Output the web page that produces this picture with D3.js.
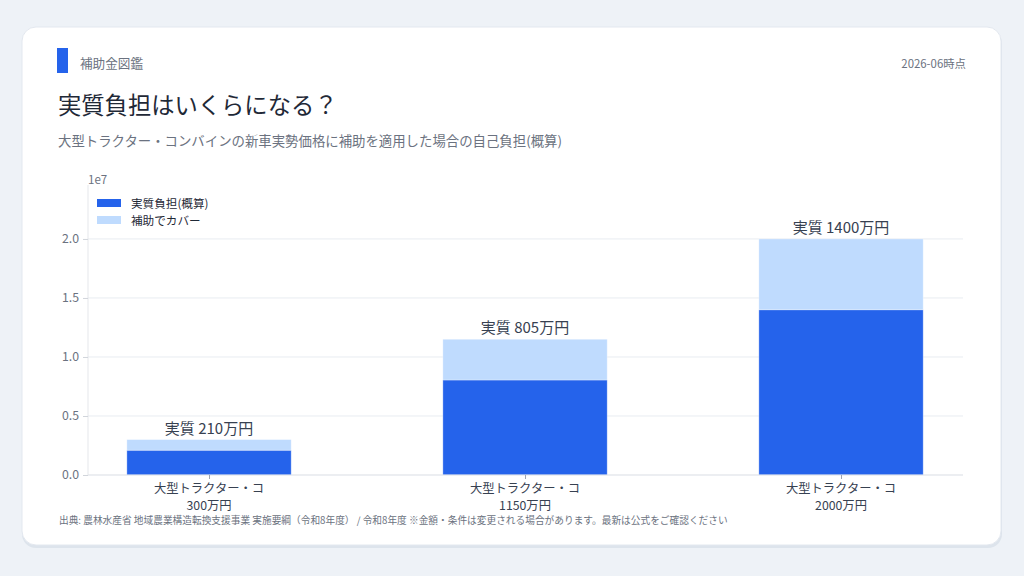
<!DOCTYPE html>
<html><head><meta charset="utf-8">
<script src="https://cdn.jsdelivr.net/npm/d3@7"></script>
<style>
html,body{margin:0;padding:0;background:#eef2f7;}
svg{display:block;font-family:"Noto Sans CJK JP","Noto Sans",sans-serif;}
</style></head><body>
<svg id="c" width="1024" height="576"></svg>
<script>
const categories = ["大型トラクター・コ\n300万円", "大型トラクター・コ\n1150万円", "大型トラクター・コ\n2000万円"];
const burden = [2100000, 8050000, 14000000];
const covered = [900000, 3450000, 6000000];
const barLabels = ["実質 210万円", "実質 805万円", "実質 1400万円"];
const yTicks = [0, 5000000, 10000000, 15000000, 20000000];
const seriesNames = ["実質負担(概算)", "補助でカバー"];

const svg = d3.select("#c");
// card
svg.append("rect").attr("x",22).attr("y",30).attr("width",980).attr("height",518).attr("rx",14).attr("fill","#dde4ec");
svg.append("rect").attr("x",22).attr("y",27).attr("width",979).attr("height",518).attr("rx",14).attr("fill","#ffffff").attr("stroke","#e3e8ef").attr("stroke-width",1);

// header
svg.append("rect").attr("x",57).attr("y",48).attr("width",11).attr("height",25).attr("fill","#2563eb");
svg.append("text").attr("x",80).attr("y",68).attr("font-size",12.6).attr("fill","#6b7280").text("補助金図鑑");
svg.append("text").attr("x",966).attr("y",68).attr("text-anchor","end").attr("font-size",11.4).attr("fill","#6b7280").text("2026-06時点");
svg.append("text").attr("x",58).attr("y",114).attr("font-size",23.3).attr("fill","#1f2937").text("実質負担はいくらになる？");
svg.append("text").attr("x",58).attr("y",146).attr("font-size",13.4).attr("fill","#6b7280").text("大型トラクター・コンバインの新車実勢価格に補助を適用した場合の自己負担(概算)");

const L=88, R=963, T=185, B=475;
const idx = d3.range(categories.length);
const x = d3.scaleLinear().domain([-0.383, 2.386]).range([L, R]);
const y = d3.scaleLinear().domain([0, 24570000]).range([B, T]);
const bw = 0.52;

const g = svg.append("g");
// grid
g.selectAll(".grid").data(yTicks).enter().append("line")
 .attr("x1",L).attr("x2",R).attr("y1",d=>y(d)).attr("y2",d=>y(d))
 .attr("stroke","#e8ecf1").attr("stroke-width",1);

// y axis
const yAxis = d3.axisLeft(y).tickValues(yTicks).tickFormat(d=>(d/1e7).toFixed(1)).tickSize(5).tickPadding(4);
const ya = g.append("g").attr("transform",`translate(${L},0)`).call(yAxis);
ya.select(".domain").attr("stroke","#e5e7eb").attr("d",`M0,${T}V${B}`);
ya.selectAll(".tick line").attr("stroke","#d1d5db");
ya.selectAll(".tick text").attr("fill","#6b7280").attr("font-size",12.3).attr("font-family","'Noto Sans CJK JP','Noto Sans',sans-serif");
svg.append("text").attr("x",L).attr("y",T-1).attr("font-size",11.5).attr("fill","#6b7280").text("1e7");

// bars
g.selectAll(".b1").data(idx).enter().append("rect")
 .attr("x",i=>x(i-bw/2)).attr("width",i=>x(i+bw/2)-x(i-bw/2))
 .attr("y",i=>y(burden[i])).attr("height",i=>y(0)-y(burden[i]))
 .attr("fill","#2563eb").attr("stroke","#ffffff").attr("stroke-opacity",0.4).attr("stroke-width",0.8);
g.selectAll(".b2").data(idx).enter().append("rect")
 .attr("x",i=>x(i-bw/2)).attr("width",i=>x(i+bw/2)-x(i-bw/2))
 .attr("y",i=>y(burden[i]+covered[i])).attr("height",i=>y(burden[i])-y(burden[i]+covered[i]))
 .attr("fill","#bfdbfe").attr("stroke","#ffffff").attr("stroke-opacity",0.4).attr("stroke-width",0.8);

// x axis
const xa = g.append("g").attr("transform",`translate(0,${B})`)
 .call(d3.axisBottom(x).tickValues(idx).tickFormat("").tickSize(4));
xa.select(".domain").attr("stroke","#e5e7eb").attr("d",`M${L},0H${R}`);
xa.selectAll(".tick line").attr("stroke","#9ca3af");
idx.forEach(i=>{
  const lines = categories[i].split("\n");
  lines.forEach((s,k)=>svg.append("text").attr("x",x(i)).attr("y",B+18+k*16.5)
    .attr("text-anchor","middle").attr("font-size",12.3).attr("fill","#374151").text(s));
});

// bar labels
g.selectAll(".bl").data(idx).enter().append("text")
 .attr("x",i=>x(i)).attr("y",i=>y(burden[i]+covered[i])-6)
 .attr("text-anchor","middle").attr("font-size",15).attr("fill","#374151")
 .text(i=>barLabels[i]);

// legend
const colors=["#2563eb","#bfdbfe"];
seriesNames.forEach((n,k)=>{
  svg.append("rect").attr("x",97).attr("y",199+k*17).attr("width",24).attr("height",8).attr("fill",colors[k]);
  svg.append("text").attr("x",131).attr("y",207.5+k*17).attr("font-size",11.6).attr("fill","#1f2937").text(n);
});

// source
svg.append("text").attr("x",59).attr("y",524).attr("font-size",9.7).attr("fill","#6b7280")
 .text("出典: 農林水産省 地域農業構造転換支援事業 実施要綱（令和8年度） / 令和8年度 ※金額・条件は変更される場合があります。最新は公式をご確認ください");
</script>
</body></html>
